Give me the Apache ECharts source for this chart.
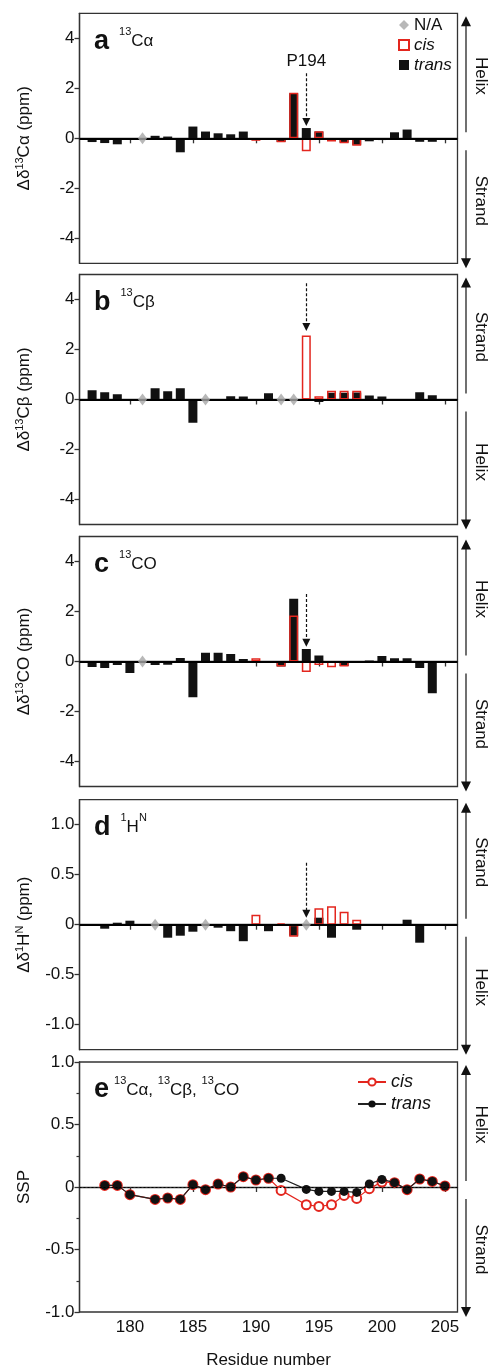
<!DOCTYPE html>
<html><head><meta charset="utf-8">
<script src="https://cdn.jsdelivr.net/npm/echarts@6/dist/echarts.min.js"></script>
<style>html,body{margin:0;padding:0;background:#fff}#c{width:492px;height:1370px}</style>
</head><body><div id="c"></div>
<script>
// ---------- data ----------
const xTicks = [180, 185, 190, 195, 200, 205];
const ppmTicks = [-4, -2, 0, 2, 4];
const hnTicks = [-1, -0.5, 0, 0.5, 1];

// panel a: 13C-alpha
const caTrans = [[177,-0.15],[178,-0.19],[179,-0.24],[182,0.10],[183,0.07],[184,-0.56],[185,0.47],[186,0.27],[187,0.20],[188,0.16],[189,0.27],[192,-0.14],[193,1.80],[194,0.41],[195,0.27],[197,-0.17],[198,-0.26],[199,-0.12],[200,-0.07],[201,0.24],[202,0.35],[203,-0.14],[204,-0.14]];
const caCis = [[190,-0.10],[192,-0.16],[193,1.82],[194,-0.52],[195,0.28],[196,-0.13],[197,-0.20],[198,-0.30]];
const caNA = [181];
// panel b: 13C-beta
const cbTrans = [[177,0.37],[178,0.29],[179,0.21],[182,0.45],[183,0.33],[184,0.45],[185,-0.93],[188,0.13],[189,0.12],[191,0.25],[195,-0.10],[196,0.27],[197,0.27],[198,0.28],[199,0.16],[200,0.12],[203,0.29],[204,0.17]];
const cbCis = [[190,-0.04],[194,2.56],[195,0.13],[196,0.35],[197,0.35],[198,0.35]];
const cbNA = [181, 186, 192, 193];
// panel c: 13CO
const coTrans = [[177,-0.22],[178,-0.26],[179,-0.14],[180,-0.46],[182,-0.14],[183,-0.13],[184,0.14],[185,-1.43],[186,0.35],[187,0.35],[188,0.30],[189,0.10],[192,-0.20],[193,2.51],[194,0.50],[195,0.24],[197,-0.18],[199,0.04],[200,0.22],[201,0.13],[202,0.13],[203,-0.26],[204,-1.27]];
const coCis = [[190,0.13],[192,-0.20],[193,1.84],[194,-0.42],[195,-0.14],[196,-0.23],[197,-0.20]];
const coNA = [181];
// panel d: 1H-N
const hnTrans = [[178,-0.04],[179,0.02],[180,0.04],[183,-0.13],[184,-0.11],[185,-0.07],[187,-0.03],[188,-0.065],[189,-0.165],[191,-0.065],[193,-0.11],[195,0.07],[196,-0.13],[198,-0.05],[202,0.05],[203,-0.18]];
const hnCis = [[190,0.10],[192,0.015],[193,-0.12],[195,0.165],[196,0.185],[197,0.13],[198,0.05]];
const hnNA = [182, 186, 194];
// panel e: SSP
const sspTrans = [[178,0.013],[179,0.013],[180,-0.061],[182,-0.099],[183,-0.088],[184,-0.099],[185,0.019],[186,-0.021],[187,0.024],[188,0],[189,0.083],[190,0.056],[191,0.07],[192,0.07],[194,-0.019],[195,-0.035],[196,-0.035],[197,-0.035],[198,-0.043],[199,0.024],[200,0.061],[201,0.035],[202,-0.021],[203,0.064],[204,0.045],[205,0.008]];
const sspCis = [[178,0.013],[179,0.013],[180,-0.061],[182,-0.099],[183,-0.088],[184,-0.099],[185,0.019],[186,-0.021],[187,0.024],[188,0],[189,0.083],[190,0.056],[191,0.07],[192,-0.027],[194,-0.142],[195,-0.155],[196,-0.142],[197,-0.067],[198,-0.091],[199,-0.013],[200,0.04],[201,0.035],[202,-0.021],[203,0.064],[204,0.045],[205,0.008]];
// P194 arrow (start, end) in data units per bar panel
const arrowA = [2.6, 0.65], arrowB = [4.65, 2.9], arrowC = [2.7, 0.75], arrowD = [0.62, 0.11];

// ---------- style / layout ----------
const FONT = "'Liberation Sans', Arial, Helvetica, sans-serif";
const RED = '#e3261e', BLACK = '#111111', GRAY = '#a6a6a6', FRAME = '#333333';
const GL = 79.5, GW = 378, GH = 250;
const TOPS = [13.3, 274.5, 536.5, 799.7, 1062];
const RANGES = [[-5,5],[-5,5],[-5,5],[-1.25,1.25],[-1,1]];
const SIDE = [['Helix','Strand'],['Strand','Helix'],['Helix','Strand'],['Strand','Helix'],['Helix','Strand']];

const rich = {
  n: {fontSize: 17, fontFamily: FONT, color: BLACK, fontWeight: 'normal', lineHeight: 20},
  s: {fontSize: 11, fontFamily: FONT, color: BLACK, fontWeight: 'normal', verticalAlign: 'top', lineHeight: 12},
  b: {fontSize: 27, fontFamily: FONT, color: BLACK, fontWeight: 'bold', lineHeight: 30},
  t: {fontSize: 17, fontFamily: FONT, color: BLACK, fontWeight: 'normal', lineHeight: 30},
  u: {fontSize: 11, fontFamily: FONT, color: BLACK, fontWeight: 'normal', verticalAlign: 'top', lineHeight: 20}
};
const YNAMES = [
  '{n|Δδ}{s|13}{n|Cα (ppm)}',
  '{n|Δδ}{s|13}{n|Cβ (ppm)}',
  '{n|Δδ}{s|13}{n|CO (ppm)}',
  '{n|Δδ}{s|1}{n|H}{s|N}{n| (ppm)}',
  '{n|SSP}'
];
const TITLES = [
  '{b|a}  {u|13}{t|Cα}',
  '{b|b}  {u|13}{t|Cβ}',
  '{b|c}  {u|13}{t|CO}',
  '{b|d}  {u|1}{t|H}{u|N}',
  '{b|e} {u|13}{t|Cα, }{u|13}{t|Cβ, }{u|13}{t|CO}'
];

const grid = TOPS.map(t => ({left: GL, top: t, width: GW, height: GH, show: true,
  borderColor: FRAME, borderWidth: 1.3, backgroundColor: 'transparent'}));

const xAxis = TOPS.map((t, i) => ({
  type: 'value', gridIndex: i, min: 176, max: 206,
  axisLine: {show: true, lineStyle: {color: FRAME, width: 1.3}},
  axisTick: {show: true, inside: false, length: 5, customValues: xTicks, lineStyle: {color: FRAME, width: 1.3}},
  axisLabel: {show: i === 4, customValues: xTicks, fontSize: 17, color: BLACK, margin: 7, fontFamily: FONT},
  splitLine: {show: false},
  name: i === 4 ? 'Residue number' : '', nameLocation: 'middle', nameGap: 40,
  nameTextStyle: {fontSize: 17, color: BLACK, fontFamily: FONT}
}));

const yAxis = TOPS.map((t, i) => {
  const ax = {
    type: 'value', gridIndex: i, min: RANGES[i][0], max: RANGES[i][1],
    axisLine: {show: true, lineStyle: {color: FRAME, width: 1.3}},
    axisTick: {show: true, inside: false, length: 5, lineStyle: {color: FRAME, width: 1.3}},
    axisLabel: {fontSize: 17, color: BLACK, margin: 5, fontFamily: FONT,
      formatter: v => (i < 3 ? String(v) : (v === 0 ? '0' : v.toFixed(1)))},
    splitLine: {show: false},
    name: YNAMES[i], nameLocation: 'middle', nameRotate: 90, nameGap: 45,
    nameTextStyle: {rich: rich}
  };
  if (i < 3) { ax.axisTick.customValues = ppmTicks; ax.axisLabel.customValues = ppmTicks; }
  else if (i === 3) { ax.axisTick.customValues = hnTicks; ax.axisLabel.customValues = hnTicks; }
  else { ax.interval = 0.5; ax.minorTick = {show: true, splitNumber: 2, length: 3, lineStyle: {color: FRAME, width: 1.2}}; }
  return ax;
});

function barPanel(i, trans, cis, na, arrow, withLabel) {
  return [
    {name: 'trans', type: 'bar', xAxisIndex: i, yAxisIndex: i, data: trans, barWidth: 9, barGap: '-100%',
      itemStyle: {color: BLACK}, z: 2,
      markLine: {silent: true, symbol: ['none','none'], label: {show: false}, animation: false,
        lineStyle: {color: '#000', width: 2, type: 'solid'}, data: [{yAxis: 0}]}},
    {name: 'cis', type: 'bar', xAxisIndex: i, yAxisIndex: i, data: cis, barWidth: 9, barGap: '-100%',
      itemStyle: {color: 'rgba(0,0,0,0)', borderColor: RED, borderWidth: 1.5}, z: 3,
      markLine: {silent: true, symbol: ['none','triangle'], symbolSize: 8, animation: false,
        lineStyle: {color: BLACK, width: 1.2, type: [3, 2]},
        label: {show: withLabel, position: 'start', formatter: 'P194', fontSize: 17, color: BLACK, fontFamily: FONT, distance: 3},
        data: [[{coord: [194, arrow[0]]}, {coord: [194, arrow[1]]}]]}},
    {name: 'N/A', type: 'scatter', xAxisIndex: i, yAxisIndex: i, data: na.map(x => [x, 0]),
      symbol: 'diamond', symbolSize: [9, 12], itemStyle: {color: GRAY}, z: 5}
  ];
}

const series = [].concat(
  barPanel(0, caTrans, caCis, caNA, arrowA, true),
  barPanel(1, cbTrans, cbCis, cbNA, arrowB, false),
  barPanel(2, coTrans, coCis, coNA, arrowC, false),
  barPanel(3, hnTrans, hnCis, hnNA, arrowD, false),
  [
    {name: 'cis SSP', type: 'line', xAxisIndex: 4, yAxisIndex: 4, data: sspCis,
      symbol: 'emptyCircle', symbolSize: 9, itemStyle: {color: RED, borderWidth: 1.2},
      lineStyle: {color: RED, width: 1.2}, z: 2},
    {name: 'trans SSP', type: 'line', xAxisIndex: 4, yAxisIndex: 4, data: sspTrans,
      symbol: 'circle', symbolSize: 9, itemStyle: {color: BLACK},
      lineStyle: {color: '#222', width: 1.2}, z: 3,
      markLine: {silent: true, symbol: ['none','none'], label: {show: false}, animation: false,
        lineStyle: {color: '#000', width: 1, type: [2, 2]}, data: [{yAxis: 0}]}}
  ]
);

const title = TOPS.map((t, i) => ({left: 89, top: t + 8, text: TITLES[i], textStyle: {rich: rich}}));

const graphic = [];
const AX = 466, TX = 481;
TOPS.forEach((t, i) => {
  const b = t + GH, m = t + GH / 2;
  const ls = {stroke: BLACK, lineWidth: 1.2};
  graphic.push({type: 'line', shape: {x1: AX, y1: t + 10, x2: AX, y2: m - 6}, style: ls, silent: true});
  graphic.push({type: 'line', shape: {x1: AX, y1: m + 12, x2: AX, y2: b - 4}, style: ls, silent: true});
  graphic.push({type: 'polygon', shape: {points: [[AX, t + 3], [AX - 5, t + 13], [AX + 5, t + 13]]}, style: {fill: BLACK}, silent: true});
  graphic.push({type: 'polygon', shape: {points: [[AX, b + 5], [AX - 5, b - 5], [AX + 5, b - 5]]}, style: {fill: BLACK}, silent: true});
  [[SIDE[i][0], (t + m) / 2], [SIDE[i][1], (m + b) / 2]].forEach(([txt, yy]) => {
    graphic.push({type: 'text', x: TX, y: yy, rotation: -Math.PI / 2, silent: true,
      style: {text: txt, fill: BLACK, font: '17px ' + FONT, textAlign: 'center', textVerticalAlign: 'middle', align: 'center', verticalAlign: 'middle'}});
  });
});

const option = {
  backgroundColor: '#fff',
  animation: false,
  textStyle: {fontFamily: FONT},
  title: title,
  grid: grid, xAxis: xAxis, yAxis: yAxis, series: series, graphic: graphic,
  legend: [
    {orient: 'vertical', left: 393, top: 11, itemWidth: 10, itemHeight: 10, itemGap: 2, selectedMode: false,
      textStyle: {fontSize: 17, color: BLACK, fontFamily: FONT, lineHeight: 18},
      data: [{name: 'N/A', icon: 'diamond', textStyle: {fontStyle: 'normal'}},
             {name: 'cis', icon: 'rect', textStyle: {fontStyle: 'italic'}},
             {name: 'trans', icon: 'rect', textStyle: {fontStyle: 'italic'}}]},
    {orient: 'vertical', left: 352, top: 1068, itemWidth: 28, itemHeight: 9, itemGap: 4, selectedMode: false,
      formatter: n => n.replace(' SSP', ''),
      textStyle: {fontSize: 18, color: BLACK, fontFamily: FONT, fontStyle: 'italic'},
      data: ['cis SSP', 'trans SSP']}
  ]
};

const chart = echarts.init(document.getElementById('c'), null, {renderer: 'canvas'});
chart.setOption(option);
</script></body></html>
